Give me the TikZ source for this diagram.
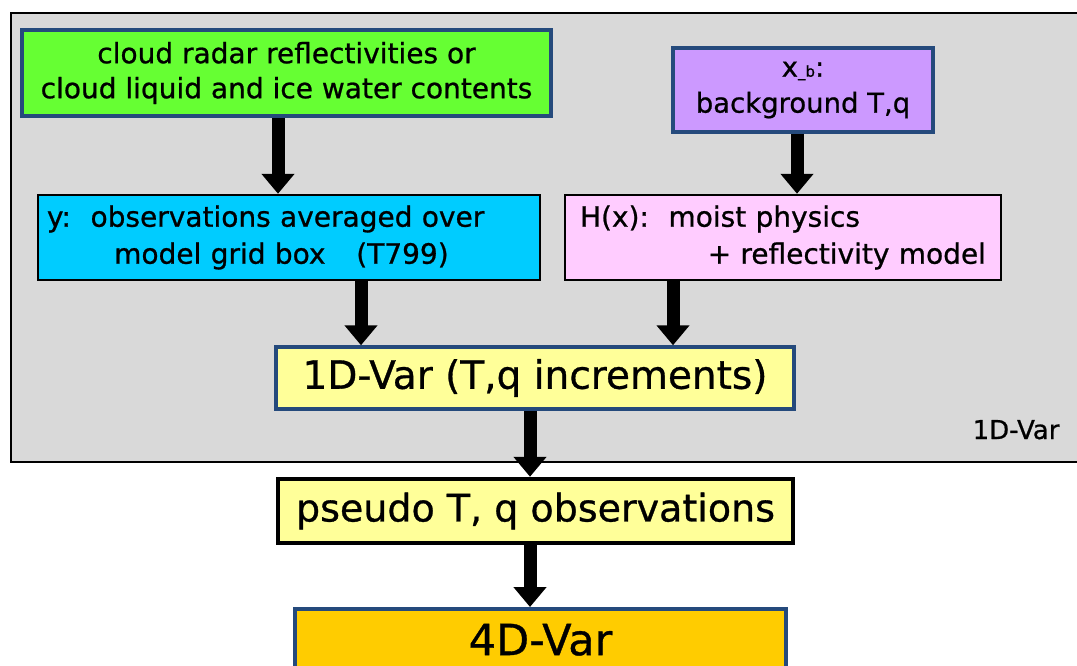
\documentclass[tikz,border=0pt]{standalone}
\usepackage{fontspec}
\setmainfont[FakeBold=0.8,AutoFakeBold=0.8]{DejaVu Sans}
\usetikzlibrary{arrows.meta,calc}
\definecolor{bggray}{HTML}{D9D9D9}
\definecolor{cgreen}{HTML}{66FF33}
\definecolor{cpurple}{HTML}{CC99FF}
\definecolor{ccyan}{HTML}{00CCFF}
\definecolor{cpink}{HTML}{FFCCFF}
\definecolor{cyellow}{HTML}{FFFF99}
\definecolor{corange}{HTML}{FFCC00}
\definecolor{bdblue}{HTML}{254A7C}
\begin{document}
\begin{tikzpicture}[x=1pt,y=1pt,
  box/.style={rectangle, inner sep=0pt, align=center},
  bluebd/.style={draw=bdblue, line width=3.5pt},
  blackbd/.style={draw=black, line width=2.5pt},
  bigarrow/.style={draw=black, line width=13pt, -{Triangle[width=32pt,length=20pt]}}]
\useasboundingbox (0,0) rectangle (1077,-665);
\clip (0,0) rectangle (1077,-665);
% frame
\node[box, draw=black, line width=2pt, fill=bggray, minimum width=1085pt, minimum height=449pt, anchor=north west] (frame) at (10,-12) {};
\node[anchor=base east, font=\fontsize{26}{28}\selectfont] (lbl) at (1063,-439) {1D-Var};
% boxes
\node[box, bluebd, fill=cgreen, minimum width=529pt, minimum height=86pt, font=\fontsize{28}{35}\selectfont] (green) at (286.5,-73)
  {cloud radar reflectivities or\\cloud liquid and ice water contents};
\node[box, bluebd, fill=cpurple, minimum width=260pt, minimum height=84pt, font=\fontsize{27.5}{36}\selectfont] (purple) at (803,-90)
  {x{\fontsize{15}{15}\selectfont\_b}:\\background T,q};
\node[box, blackbd, fill=ccyan, minimum width=502pt, minimum height=85pt, text width=484pt, align=left, font=\fontsize{28}{37}\selectfont] (cyan) at (289,-237.5)
  {y:\hspace{0.7em}observations averaged over\\\hspace*{2.4em}model grid box\hspace{1.1em}(T799)};
\node[box, blackbd, fill=cpink, minimum width=436pt, minimum height=85pt, text width=406pt, align=left, font=\fontsize{28}{37}\selectfont] (pink) at (783,-237.5)
  {H(x):\hspace{0.7em}moist physics\\\hspace*{\fill}+ reflectivity model};
\node[box, bluebd, fill=cyellow, minimum width=518pt, minimum height=62pt, font=\fontsize{39}{44}\selectfont] (var1) at (535,-378)
  {1D-Var (T,q increments)};
\node[box, draw=black, line width=4.5pt, fill=cyellow, minimum width=515pt, minimum height=64pt, font=\fontsize{38}{44}\selectfont] (pseudo) at (535.5,-511)
  {pseudo T, q observations};
\node[box, bluebd, fill=corange, minimum width=491pt, minimum height=62pt, anchor=north, font=\fontsize{43}{46}\selectfont] (fourd) at (540.5,-607)
  {4D-Var};
% arrow columns
\coordinate (a1) at (278,0);
\coordinate (a2) at (797,0);
\coordinate (a3) at (361,0);
\coordinate (a4) at (673,0);
\coordinate (a5) at (530,0);
% arrows
\draw[bigarrow] (green.south -| a1) -- (cyan.north -| a1);
\draw[bigarrow] (purple.south -| a2) -- (pink.north -| a2);
\draw[bigarrow] (cyan.south -| a3) -- (var1.north -| a3);
\draw[bigarrow] (pink.south -| a4) -- (var1.north -| a4);
\draw[bigarrow] (var1.south -| a5) -- (pseudo.north -| a5);
\draw[bigarrow] (pseudo.south -| a5) -- (fourd.north -| a5);
\end{tikzpicture}
\end{document}
